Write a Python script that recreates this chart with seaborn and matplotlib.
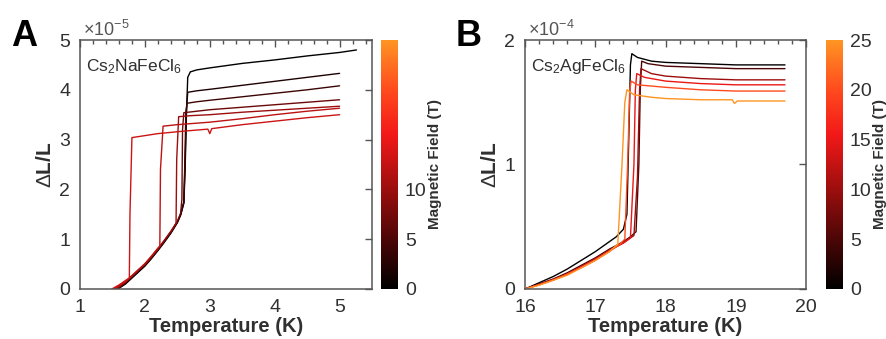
import numpy as np
import pandas as pd
import matplotlib
matplotlib.use('Agg')
import matplotlib.pyplot as plt
import seaborn as sns
from matplotlib.colors import LinearSegmentedColormap, Normalize
from matplotlib.cm import ScalarMappable
from matplotlib.ticker import MultipleLocator

# ---- panel A : Cs2NaFeCl6, dL/L in units of 1e-5 ----
fields_a = [0, 2, 4, 7, 10, 12, 13]
temps_a = [
    [1.58, 1.7, 1.8, 1.9, 2.0, 2.1, 2.2, 2.3, 2.4, 2.5, 2.55, 2.6, 2.62, 2.64, 2.66, 2.7, 2.8, 3.0, 3.5, 4.0, 4.5, 5.0, 5.26],
    [1.58, 1.7, 1.8, 1.9, 2.0, 2.1, 2.2, 2.3, 2.4, 2.5, 2.55, 2.6, 2.62, 2.64, 2.66, 2.8, 3.0, 3.5, 4.0, 4.5, 5.0],
    [1.57, 1.7, 1.8, 1.9, 2.0, 2.1, 2.2, 2.3, 2.4, 2.5, 2.55, 2.6, 2.62, 2.63, 2.65, 2.8, 3.0, 3.5, 4.0, 4.5, 5.0],
    [1.56, 1.7, 1.8, 1.9, 2.0, 2.1, 2.2, 2.3, 2.4, 2.5, 2.55, 2.57, 2.58, 2.6, 2.8, 3.0, 3.5, 4.0, 4.5, 5.0],
    [1.55, 1.7, 1.8, 1.9, 2.0, 2.1, 2.2, 2.3, 2.4, 2.48, 2.49, 2.52, 2.7, 3.0, 3.5, 4.0, 4.5, 5.0],
    [1.52, 1.7, 1.8, 1.9, 2.0, 2.1, 2.2, 2.23, 2.24, 2.28, 2.5, 3.0, 3.5, 4.0, 4.5, 5.0],
    [1.49, 1.6, 1.7, 1.76, 1.77, 1.8, 2.0, 2.2, 2.6, 2.97, 3.0, 3.03, 3.5, 4.0, 4.5, 5.0],
]
values_a = [
    [0.0, 0.1, 0.22, 0.34, 0.46, 0.61, 0.77, 0.94, 1.12, 1.33, 1.48, 1.72, 2.4, 3.5, 4.25, 4.36, 4.4, 4.44, 4.53, 4.6, 4.68, 4.75, 4.8],
    [0.0, 0.11, 0.23, 0.35, 0.47, 0.62, 0.78, 0.95, 1.13, 1.34, 1.49, 1.74, 2.6, 3.6, 3.95, 3.98, 4.01, 4.09, 4.17, 4.25, 4.33],
    [0.0, 0.12, 0.24, 0.36, 0.48, 0.63, 0.79, 0.96, 1.14, 1.35, 1.5, 1.75, 2.8, 3.55, 3.73, 3.76, 3.79, 3.86, 3.93, 4.0, 4.08],
    [0.0, 0.13, 0.25, 0.37, 0.49, 0.64, 0.8, 0.97, 1.15, 1.36, 1.52, 1.8, 3.2, 3.54, 3.57, 3.6, 3.65, 3.7, 3.75, 3.8],
    [0.0, 0.14, 0.26, 0.38, 0.5, 0.65, 0.81, 0.98, 1.16, 1.32, 2.6, 3.46, 3.48, 3.5, 3.55, 3.59, 3.63, 3.67],
    [0.0, 0.15, 0.27, 0.39, 0.51, 0.66, 0.82, 0.86, 2.4, 3.27, 3.3, 3.35, 3.42, 3.5, 3.57, 3.63],
    [0.0, 0.08, 0.17, 0.22, 1.5, 3.04, 3.08, 3.12, 3.17, 3.21, 3.12, 3.22, 3.3, 3.37, 3.44, 3.5],
]

# ---- panel B : Cs2AgFeCl6, dL/L in units of 1e-4 ----
fields_b = [0, 5, 10, 15, 20, 25]
temps_b = [
    [16.0, 16.2, 16.4, 16.6, 16.8, 17.0, 17.2, 17.3, 17.4, 17.45, 17.48, 17.5, 17.52, 17.6, 17.8, 18.0, 18.5, 19.0, 19.7],
    [16.0, 16.2, 16.4, 16.6, 16.8, 17.0, 17.2, 17.4, 17.5, 17.58, 17.62, 17.64, 17.66, 17.75, 18.0, 18.5, 19.0, 19.7],
    [16.0, 16.2, 16.4, 16.6, 16.8, 17.0, 17.2, 17.4, 17.5, 17.55, 17.6, 17.63, 17.65, 17.8, 18.0, 18.5, 19.0, 19.7],
    [16.0, 16.2, 16.4, 16.6, 16.8, 17.0, 17.2, 17.4, 17.5, 17.55, 17.57, 17.59, 17.7, 18.0, 18.5, 19.0, 19.7],
    [16.0, 16.2, 16.4, 16.6, 16.8, 17.0, 17.2, 17.35, 17.42, 17.46, 17.49, 17.51, 17.6, 18.0, 18.5, 19.0, 19.7],
    [16.0, 16.2, 16.4, 16.6, 16.8, 17.0, 17.2, 17.32, 17.38, 17.42, 17.45, 17.55, 17.8, 18.0, 18.5, 18.95, 18.98, 19.02, 19.7],
]
values_b = [
    [0.0, 0.05, 0.1, 0.16, 0.23, 0.3, 0.38, 0.42, 0.48, 0.6, 1.3, 1.8, 1.89, 1.86, 1.83, 1.82, 1.81, 1.8, 1.8],
    [0.0, 0.04, 0.08, 0.13, 0.19, 0.25, 0.32, 0.38, 0.42, 0.46, 1.0, 1.6, 1.83, 1.81, 1.79, 1.78, 1.77, 1.77],
    [0.0, 0.035, 0.075, 0.12, 0.18, 0.24, 0.31, 0.37, 0.41, 0.43, 0.9, 1.6, 1.77, 1.73, 1.71, 1.69, 1.68, 1.68],
    [0.0, 0.035, 0.075, 0.12, 0.18, 0.24, 0.31, 0.37, 0.41, 1.0, 1.6, 1.73, 1.7, 1.67, 1.65, 1.64, 1.64],
    [0.0, 0.035, 0.07, 0.12, 0.17, 0.23, 0.3, 0.36, 0.4, 1.0, 1.6, 1.67, 1.64, 1.62, 1.6, 1.59, 1.59],
    [0.0, 0.03, 0.07, 0.11, 0.17, 0.23, 0.3, 0.36, 1.0, 1.5, 1.6, 1.56, 1.54, 1.53, 1.52, 1.52, 1.49, 1.51, 1.51],
]


def to_frame(fields, temps, values):
    rows = []
    for f, ts, vs in zip(fields, temps, values):
        for t, v in zip(ts, vs):
            rows.append({'Field': f, 'T': t, 'dL': v})
    return pd.DataFrame(rows)


df_a = to_frame(fields_a, temps_a, values_a)
df_b = to_frame(fields_b, temps_b, values_b)

sns.set_style('white')
plt.rcParams['font.family'] = ['Liberation Sans', 'DejaVu Sans']
plt.rcParams['mathtext.fontset'] = 'custom'
plt.rcParams['mathtext.rm'] = 'Liberation Sans'
plt.rcParams['mathtext.it'] = 'Liberation Sans'

cmap = LinearSegmentedColormap.from_list(
    'field', [(0.0, '#000000'), (0.2, '#4c0606'), (0.4, '#9c0e0e'), (0.62, '#f21818'),
              (0.8, '#ff4a1e'), (1.0, '#ff9422')])
norm = Normalize(0, 25)

fig = plt.figure(figsize=(8.86, 3.39), dpi=100)
ax_a = fig.add_axes([0.0903, 0.1475, 0.3296, 0.7345])
cax_a = fig.add_axes([0.430, 0.1475, 0.019, 0.7345])
ax_b = fig.add_axes([0.5926, 0.1475, 0.3172, 0.7345])
cax_b = fig.add_axes([0.9323, 0.1475, 0.019, 0.7345])

grey = '#555555'
txt = '#303030'

panels = [
    (ax_a, cax_a, df_a, (1, 5.5), (0, 5), [1, 2, 3, 4, 5], [0, 1, 2, 3, 4, 5],
     r'Cs$_2$NaFeCl$_6$', r'$\times$10$^{-5}$', [0, 5, 10], 'A'),
    (ax_b, cax_b, df_b, (16, 20), (0, 2), [16, 17, 18, 19, 20], [0, 1, 2],
     r'Cs$_2$AgFeCl$_6$', r'$\times$10$^{-4}$', [0, 5, 10, 15, 20, 25], 'B'),
]

for ax, cax, df, xlim, ylim, xt, yt, comp, offs, cbt, letter in panels:
    sns.lineplot(data=df, x='T', y='dL', hue='Field', palette=cmap, hue_norm=norm,
                 estimator=None, sort=False, units='Field', lw=1.0, legend=False, ax=ax)
    ax.set_xlim(*xlim)
    ax.set_ylim(*ylim)
    ax.set_xticks(xt)
    ax.set_yticks(yt)
    ax.xaxis.set_minor_locator(MultipleLocator(0.2))
    ax.tick_params(which='both', direction='in', top=True, right=True,
                   color=grey, labelsize=14, labelcolor=txt, pad=7)
    ax.tick_params(which='major', length=5, width=1)
    ax.tick_params(which='minor', length=3, width=1)
    ax.tick_params(axis='y', which='minor', left=False, right=False)
    for s in ax.spines.values():
        s.set_color(grey)
        s.set_linewidth(1.1)
    ax.set_xlabel('Temperature (K)', fontsize=14.5, fontweight='bold', color=txt, labelpad=1)
    ax.set_ylabel(r'$\Delta$L/L', fontsize=15, fontweight='bold', color=txt, labelpad=3)
    ax.text(0.02, 0.93, comp, transform=ax.transAxes, fontsize=12.5,
            color=txt, va='top', ha='left')
    ax.text(0.01, 1.0, offs, transform=ax.transAxes, fontsize=13,
            color='#555555', va='bottom', ha='left')

    cb = fig.colorbar(ScalarMappable(norm=norm, cmap=cmap), cax=cax)
    cb.outline.set_visible(False)
    cb.set_ticks(cbt)
    cb.ax.tick_params(length=0, labelsize=14, labelcolor=txt, pad=5)
    cb.set_label('Magnetic Field (T)', fontsize=11, fontweight='bold', color=txt, labelpad=1)

    pos = ax.get_position()
    fig.text(pos.x0 - 0.078, 0.945, letter, fontsize=26, fontweight='bold',
             va='top', ha='left', color='black')

fig.savefig('out.png', dpi=100)
